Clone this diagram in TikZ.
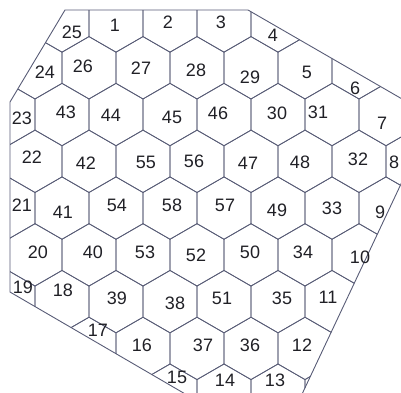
\documentclass[tikz,border=0pt]{standalone}
\usepackage{fontspec}
\setmainfont{Liberation Sans}
\definecolor{gridcol}{RGB}{88,92,118}
\definecolor{numcol}{RGB}{32,32,38}

\begin{document}
\begin{tikzpicture}[x=1pt,y=-1pt,
  cell/.style={draw=gridcol, line width=0.75pt},
  border/.style={draw=gridcol, line width=0.9pt, line join=round},
  num/.style={font=\fontsize{18}{18}\selectfont, text=numcol, inner sep=0pt}
]

% Parameters
\def\hexW{54}      % width of one cell
\def\hexR{31.177}  % corner radius of one cell
\def\rowH{46.77}   % vertical distance of rows

\useasboundingbox (0,0) rectangle (401,392);

% ==========================================================
% Cells, clipped by the region
% ==========================================================
\begin{scope}
  \clip (0,0) rectangle (401,392);
  \clip (65,10) -- (248,10) -- (412,104.7) -- (412,160.6) -- (298.3,402)
    -- (199,402) -- (10,292) -- (10,102) -- cycle;
  \foreach \r in {0,...,8}{
    \pgfmathsetmacro\yc{21+\r*\rowH}
    \pgfmathsetmacro\xo{8+27*mod(\r,2)}
    \foreach \k in {-1,...,8}{
      \pgfmathsetmacro\xc{\xo+\k*\hexW}
      \draw[cell] (\xc,\yc) +(30:\hexR) -- +(90:\hexR) -- +(150:\hexR)
        -- +(210:\hexR) -- +(270:\hexR) -- +(330:\hexR) -- cycle;
    }
  }
\end{scope}

% ==========================================================
% Outline of the region
% ==========================================================
\begin{scope}
  \clip (0,0) rectangle (401,392);
  \draw[border] (199,402) -- (10,292) -- (10,102) -- (65,10) -- (248,10)
    -- (412,104.7) -- (412,160.6) -- (298.3,402);
\end{scope}

% ==========================================================
% Cell numbers
% ==========================================================
\foreach \n/\x/\y in {
  1/115/25, 2/168/22, 3/221/22, 4/273/35, 25/72/32,
  24/45/72, 26/83/66, 27/141/68, 28/196/70, 29/250/77, 5/307/72, 6/355/88,
  23/22/118, 43/66/112, 44/111/115, 45/172/117, 46/218/113, 30/277/113,
  31/318/112, 7/382/123,
  22/32/157, 42/86/163, 55/146/162, 56/194/161, 47/248/163, 48/300/162,
  32/358/159, 8/394/162,
  21/22/205, 41/63/212, 54/117/205, 58/172/205, 57/225/205, 49/277/210,
  33/332/208, 9/380/212,
  20/38/252, 40/93/252, 53/145/252, 52/196/255, 50/250/252, 34/303/252,
  10/360/257,
  19/23/287, 18/63/290, 39/117/298, 38/175/303, 51/222/298, 35/282/298,
  11/328/297,
  17/98/330, 16/142/345, 37/203/345, 36/250/345, 12/302/345,
  15/177/377, 14/225/380, 13/275/380
}{
  \node[num] (c\n) at (\x,\y) {\n};
}

\end{tikzpicture}
\end{document}
